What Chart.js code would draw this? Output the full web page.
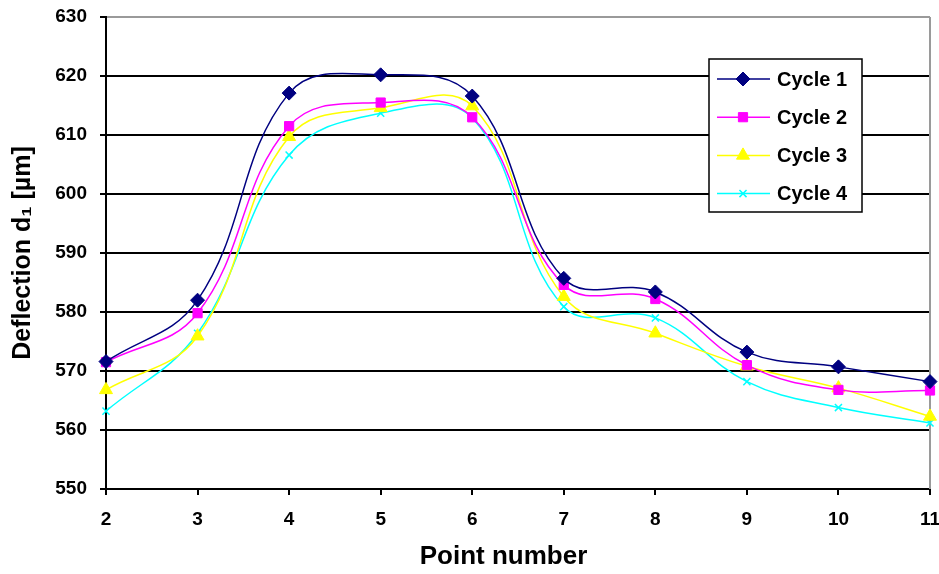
<!DOCTYPE html>
<html>
<head>
<meta charset="utf-8">
<script src="https://cdn.jsdelivr.net/npm/chart.js@4.4.1/dist/chart.umd.min.js"></script>
<style>
  html, body { margin: 0; padding: 0; background: #fff; }
  #wrap { width: 939px; height: 574px; }
</style>
</head>
<body>
<div id="wrap"><canvas id="deflChart" width="939" height="574"></canvas></div>
<script>
const points = ['2', '3', '4', '5', '6', '7', '8', '9', '10', '11'];
const cycle1 = [571.6, 582.0, 617.1, 620.2, 616.6, 585.7, 583.4, 573.2, 570.7, 568.2];
const cycle2 = [571.5, 579.8, 611.5, 615.5, 613.0, 584.6, 582.2, 571.0, 566.8, 566.7];
const cycle3 = [566.8, 575.9, 609.7, 614.6, 614.9, 582.6, 576.4, 570.8, 567.1, 562.3];
const cycle4 = [563.2, 576.4, 606.6, 613.7, 612.9, 580.9, 579.0, 568.2, 563.8, 561.2];
const seriesNames = ['Cycle 1', 'Cycle 2', 'Cycle 3', 'Cycle 4'];

const FONT = "'Liberation Sans', Arial, sans-serif";

function makeSet(label, data, color, style, radius) {
    return {
        label: label,
        data: data,
        borderColor: color,
        backgroundColor: color,
        borderWidth: 1.5,
        pointStyle: style,
        pointRadius: radius,
        pointBorderWidth: style === 'crossRot' ? 1.5 : 1,
        pointBackgroundColor: color,
        pointBorderColor: color,
        tension: 0.4,
        fill: false,
        clip: false
    };
}

// legend box drawn inside the plot, like the original
const boxLegend = {
    id: 'boxLegend',
    afterDraw(chart) {
        const ctx = chart.ctx;
        const x0 = 709, y0 = 59, w = 153, h = 153;
        ctx.save();
        ctx.fillStyle = '#fff';
        ctx.fillRect(x0, y0, w, h);
        ctx.strokeStyle = '#000';
        ctx.lineWidth = 1.5;
        ctx.strokeRect(x0, y0, w, h);
        chart.data.datasets.forEach((ds, i) => {
            const cy = y0 + 20 + i * 38.2;
            ctx.strokeStyle = ds.borderColor;
            ctx.lineWidth = 1.5;
            ctx.beginPath();
            ctx.moveTo(717, cy);
            ctx.lineTo(770, cy);
            ctx.stroke();
            ctx.fillStyle = ds.backgroundColor;
            ctx.strokeStyle = ds.borderColor;
            ctx.lineWidth = ds.pointBorderWidth;
            Chart.helpers.drawPoint(ctx, {
                pointStyle: ds.pointStyle, radius: ds.pointRadius, rotation: 0, borderWidth: ds.pointBorderWidth
            }, 743, cy);
            ctx.fillStyle = '#000';
            ctx.font = 'bold 20px ' + FONT;
            ctx.textBaseline = 'middle';
            ctx.textAlign = 'left';
            ctx.fillText(ds.label, 777, cy + 1);
        });
        ctx.restore();
    }
};

// grey right-hand frame line
const rightFrame = {
    id: 'rightFrame',
    beforeDatasetsDraw(chart) {
        const a = chart.chartArea, ctx = chart.ctx;
        ctx.save();
        ctx.strokeStyle = '#9a9a9a';
        ctx.lineWidth = 2;
        ctx.beginPath();
        ctx.moveTo(a.right, a.top);
        ctx.lineTo(a.right, a.bottom);
        ctx.stroke();
        ctx.restore();
    }
};

new Chart(document.getElementById('deflChart'), {
    type: 'line',
    data: {
        labels: points,
        datasets: [
            makeSet(seriesNames[0], cycle1, '#000080', 'rectRot', 7),
            makeSet(seriesNames[1], cycle2, '#ff00ff', 'rect', 6.5),
            makeSet(seriesNames[2], cycle3, '#ffff00', 'triangle', 7.5),
            makeSet(seriesNames[3], cycle4, '#00ffff', 'crossRot', 5)
        ]
    },
    options: {
        responsive: false,
        animation: false,
        layout: { padding: { left: 0, top: 17, right: 9, bottom: 0 } },
        plugins: {
            legend: { display: false },
            tooltip: { enabled: false }
        },
        scales: {
            x: {
                offset: false,
                grid: { drawOnChartArea: false, drawTicks: true, tickLength: 6, tickColor: '#000', lineWidth: 2 },
                border: { color: '#000', width: 2 },
                ticks: { color: '#000', padding: 13, maxRotation: 0, font: { family: FONT, size: 19, weight: 'bold' } },
                title: {
                    display: true, text: 'Point number    ', color: '#000',
                    padding: { top: 0, bottom: 2 },
                    font: { family: FONT, size: 26, weight: 'bold' }
                },
                afterFit(s) {
                    s.height = 85;
                    s.paddingLeft = 0; s.paddingRight = 0;
                }
            },
            y: {
                min: 550,
                max: 630,
                grid: {
                    color: c => (c.tick && c.tick.value === 630) ? '#9a9a9a' : '#000',
                    lineWidth: 2, tickLength: 6, tickColor: '#000'
                },
                border: { color: '#000', width: 2 },
                ticks: { stepSize: 10, color: '#000', padding: 13, font: { family: FONT, size: 19, weight: 'bold' } },
                title: {
                    display: true, text: 'Deflection d\u2081 [\u00b5m]', color: '#000',
                    padding: { top: 8, bottom: 0 },
                    font: { family: FONT, size: 25, weight: 'bold' }
                },
                afterFit(s) {
                    s.width = 106;
                    s.paddingTop = 0; s.paddingBottom = 0;
                }
            }
        }
    },
    plugins: [rightFrame, boxLegend]
});
</script>
</body>
</html>
